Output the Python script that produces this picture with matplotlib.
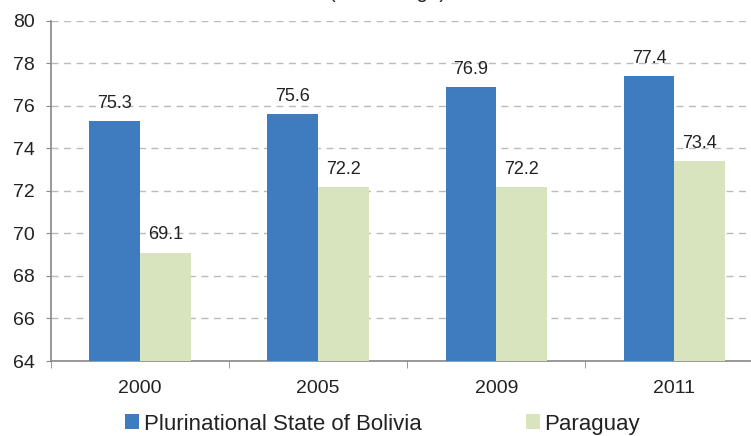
import matplotlib.pyplot as plt
import numpy as np

years = ["2000", "2005", "2009", "2011"]
bolivia = np.array([75.3, 75.6, 76.9, 77.4])
paraguay = np.array([69.1, 72.2, 72.2, 73.4])

plt.rcParams['font.family'] = ['Liberation Sans', 'DejaVu Sans']

fig = plt.figure(figsize=(7.51, 4.36), dpi=100)
ax = fig.add_axes([0.068, 0.172, 0.932, 0.78])

x = np.arange(len(years))
w = 0.285
b1 = ax.bar(x - w/2, bolivia - 64, w, bottom=64, color='#3F7BBF', label='Plurinational State of Bolivia', zorder=3)
b2 = ax.bar(x + w/2, paraguay - 64, w, bottom=64, color='#D7E4BD', label='Paraguay', zorder=3)

# etiketter over stolpene
for k in range(len(years)):
    ax.text(x[k] - w/2, bolivia[k] + 0.43, f"{bolivia[k]:.1f}", ha='center', va='bottom', fontsize=13, color='#222222', zorder=4)
    ax.text(x[k] + w/2, paraguay[k] + 0.43, f"{paraguay[k]:.1f}", ha='center', va='bottom', fontsize=13, color='#222222', zorder=4)

ax.set_yticks(np.arange(64, 81, 2))
ax.set_xticks(x)
ax.set_xticklabels(years)
ax.set_xticks(np.arange(-0.5, 4, 1), minor=True)
ax.set_ylim(64, 80)
ax.set_xlim(-0.5, 3.43)  # etter set_xticks, ellers utvides grensene
ax.tick_params(axis='x', which='major', length=0, pad=14, labelsize=14, labelcolor='#222222')
ax.tick_params(axis='x', which='minor', length=5, color='#888888')
ax.tick_params(axis='y', length=3.5, color='#888888', labelsize=14, pad=8, labelcolor='#222222')

ax.yaxis.grid(True, linestyle=(0, (5, 4)), color='#BBBBBB', linewidth=1, zorder=0)
for s in ['top', 'right']:
    ax.spines[s].set_visible(False)
for s in ['left', 'bottom']:
    ax.spines[s].set_color('#888888')
    ax.spines[s].set_linewidth(1.2)

# tittelen er nesten helt kuttet i toppen, som i originalen
fig.text(388/751, 1 + 2.5/436, "(Percentage)", ha='center', va='baseline', fontsize=14.7, color='#222222')

fig.legend(handles=[b1, b2], loc='center left', bbox_to_anchor=(125/751, 1 - 424/436), ncol=2, frameon=False,
           fontsize=16, handlelength=0.62, handleheight=0.62, handletextpad=0.22, columnspacing=4.7,
           borderpad=0, borderaxespad=0, labelcolor='#222222')

plt.savefig('out.png', dpi=100)
